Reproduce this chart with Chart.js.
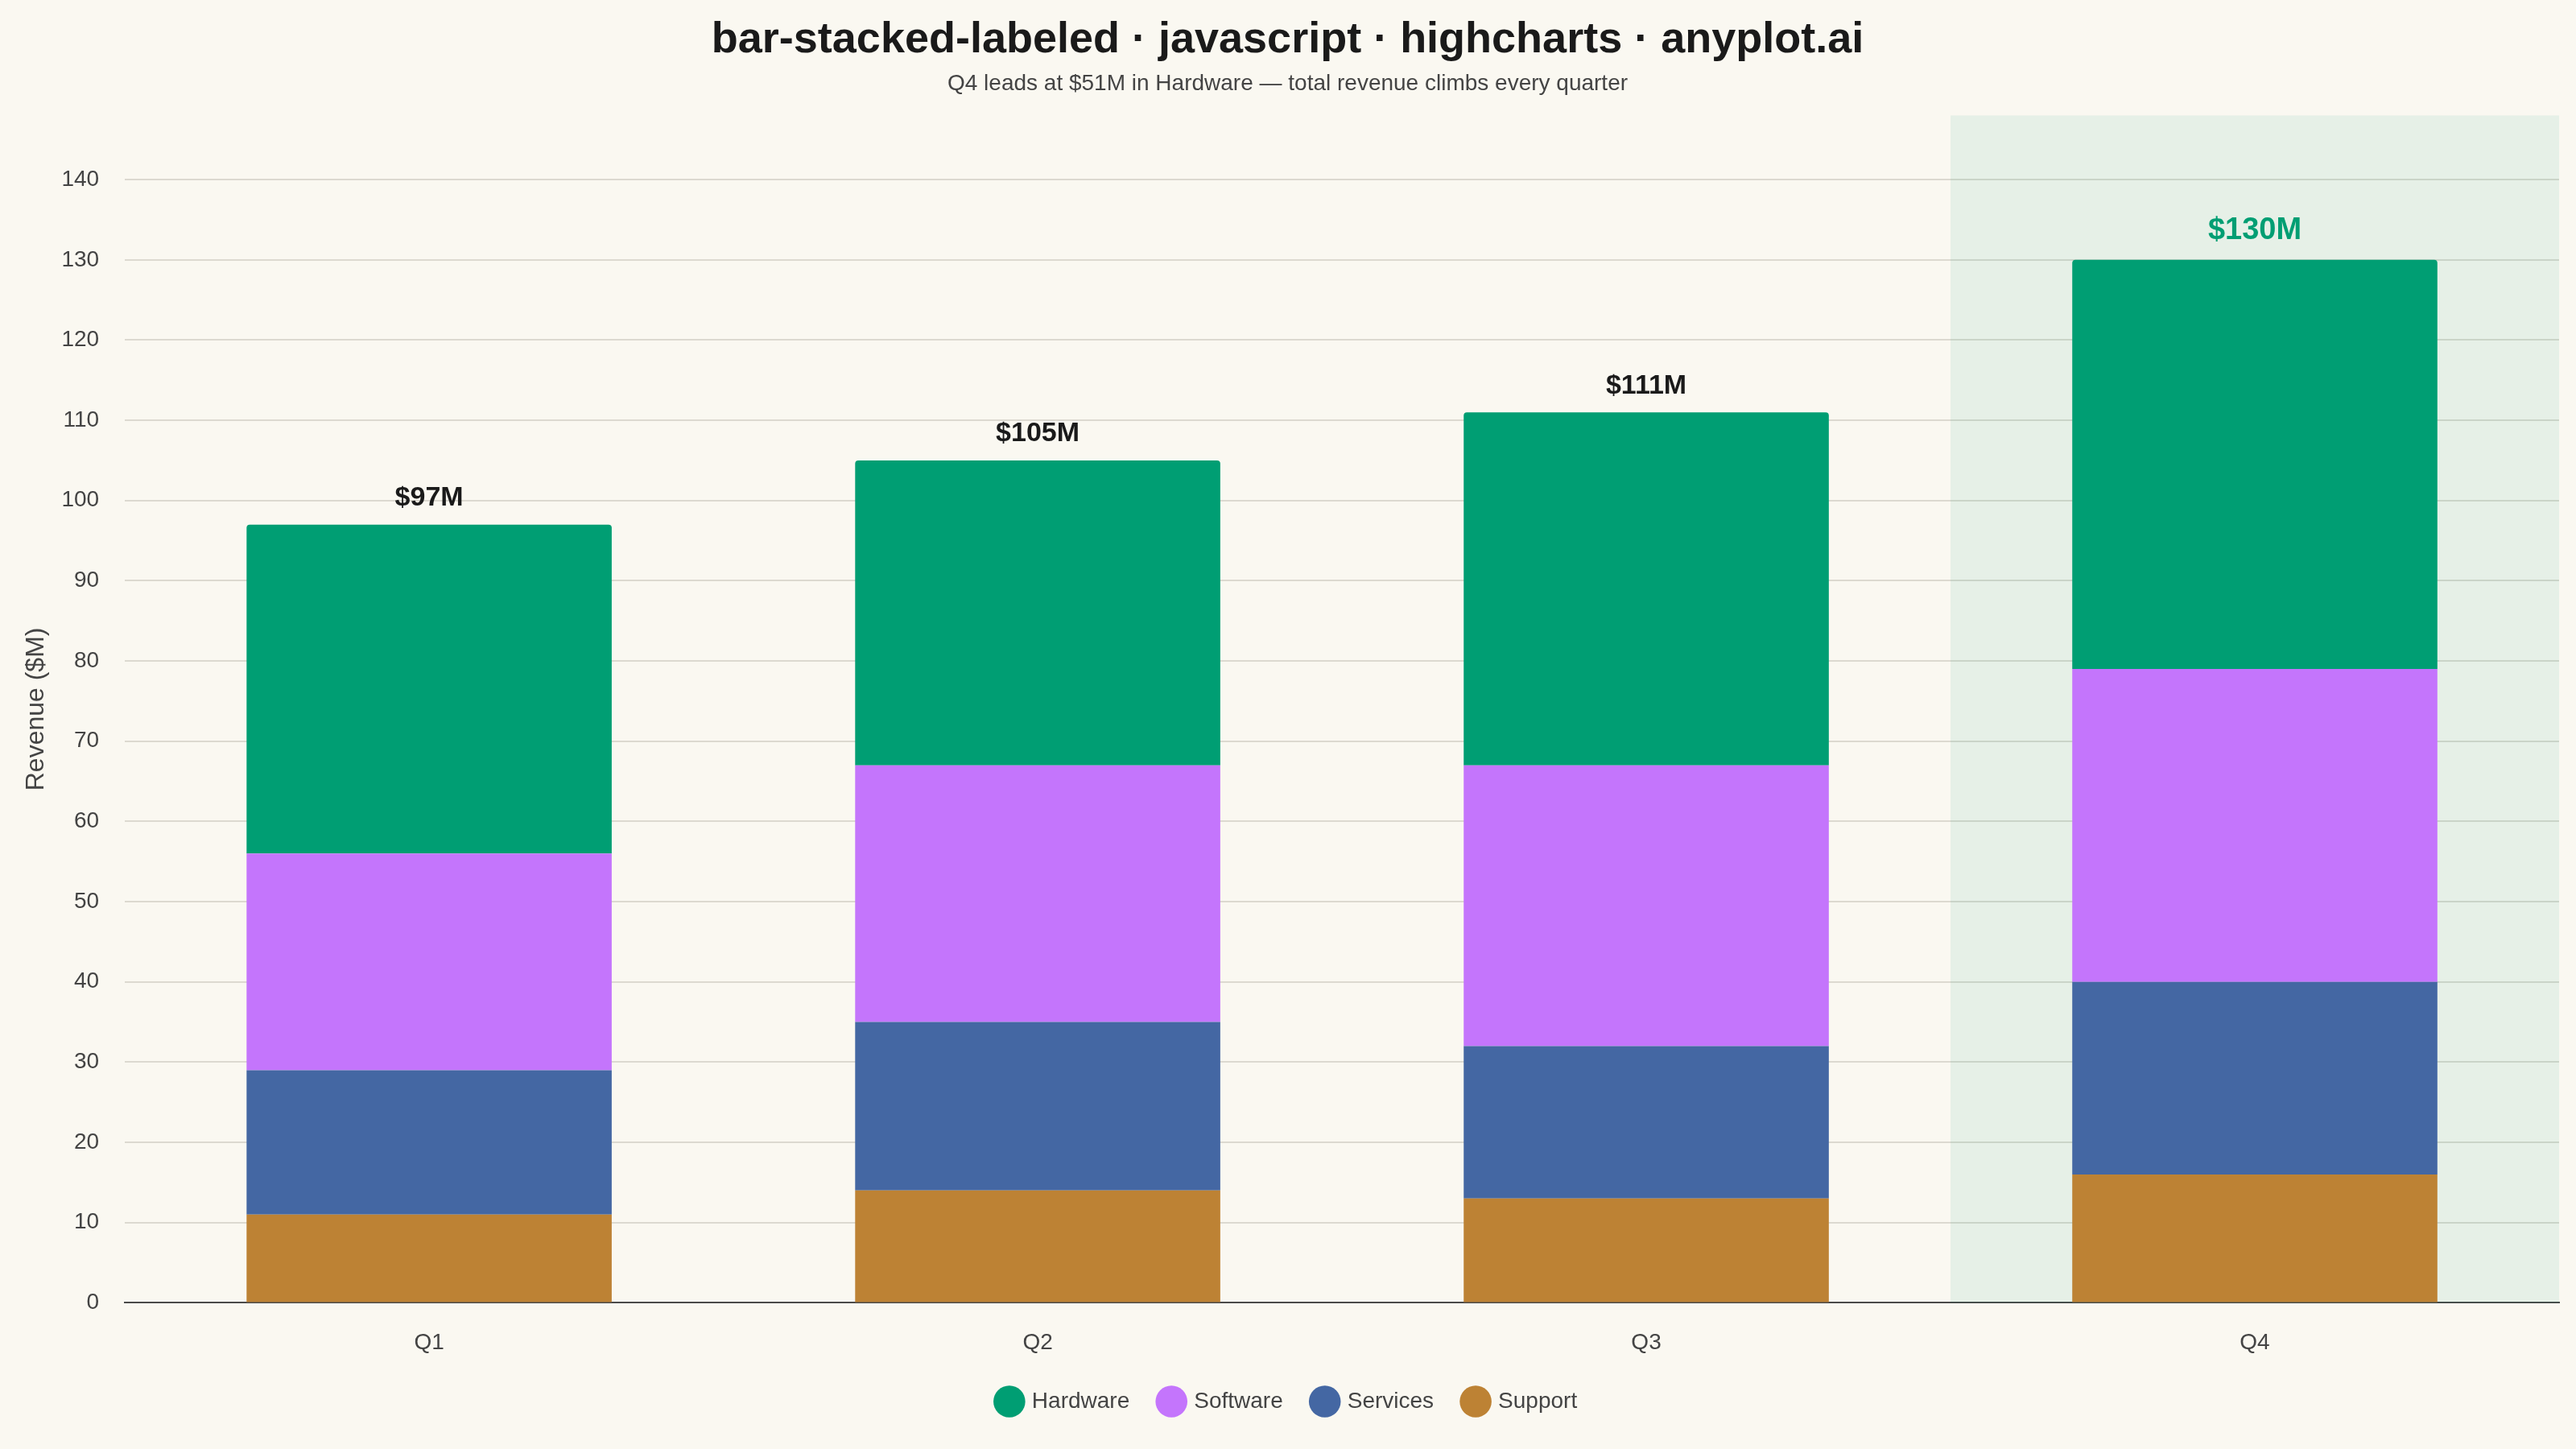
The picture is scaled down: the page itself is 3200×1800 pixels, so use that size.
<!DOCTYPE html>
<html>
<head>
<meta charset="utf-8">
<script src="https://cdn.jsdelivr.net/npm/chart.js@4"></script>
<style>
  html, body { margin: 0; padding: 0; background: #FAF8F1; }
  #wrap { width: 3200px; height: 1800px; }
</style>
</head>
<body>
<div id="wrap"><canvas id="stackChart"></canvas></div>
<script>
const quarters = ['Q1', 'Q2', 'Q3', 'Q4'];
const hardware = [41, 38, 44, 51];
const software = [27, 32, 35, 39];
const services = [18, 21, 19, 24];
const support = [11, 14, 13, 16];
const highlightIndex = 3;

const totals = quarters.map((q, i) => hardware[i] + software[i] + services[i] + support[i]);

const textColor = '#444444';
const fontFamily = '"Liberation Sans", Arial, Helvetica, sans-serif';

// shaded band behind the leading quarter
const highlightBand = {
  id: 'highlightBand',
  beforeDatasetsDraw(chart) {
    const { ctx, chartArea, scales } = chart;
    const x = scales.x;
    const half = (x.getPixelForValue(1) - x.getPixelForValue(0)) / 2;
    const cx = x.getPixelForValue(highlightIndex);
    ctx.save();
    ctx.fillStyle = 'rgba(0, 158, 115, 0.08)';
    ctx.fillRect(cx - half, chartArea.top, half * 2, chartArea.bottom - chartArea.top);
    ctx.restore();
  }
};

// total labels on top of each stack
const totalLabels = {
  id: 'totalLabels',
  afterDatasetsDraw(chart) {
    const { ctx } = chart;
    const last = chart.getDatasetMeta(chart.data.datasets.length - 1);
    ctx.save();
    ctx.textAlign = 'center';
    ctx.textBaseline = 'middle';
    last.data.forEach((bar, i) => {
      const hi = i === highlightIndex;
      ctx.font = (hi ? 'bold 38px ' : 'bold 34px ') + fontFamily;
      ctx.fillStyle = hi ? '#009E73' : '#1a1a1a';
      ctx.fillText('$' + totals[i] + 'M', bar.x, bar.y - (hi ? 36 : 33));
    });
    ctx.restore();
  }
};

new Chart(document.getElementById('stackChart'), {
  type: 'bar',
  data: {
    labels: quarters,
    datasets: [
      { label: 'Support', data: support, backgroundColor: '#BD8234' },
      { label: 'Services', data: services, backgroundColor: '#4467A3' },
      { label: 'Software', data: software, backgroundColor: '#C475FC' },
      { label: 'Hardware', data: hardware, backgroundColor: '#009E73', borderRadius: 4 }
    ]
  },
  options: {
    responsive: true,
    maintainAspectRatio: false,
    animation: false,
    devicePixelRatio: 1,
    layout: { padding: { left: 20, right: 21, bottom: 35 } },
    datasets: { bar: { barPercentage: 0.6, categoryPercentage: 1.0, borderSkipped: 'start' } },
    scales: {
      x: {
        stacked: true,
        grid: { display: false, drawTicks: false },
        border: { display: true, color: '#4a4a4a', width: 2 },
        ticks: { color: textColor, font: { family: fontFamily, size: 28 }, padding: 33 },
        afterFit(scale) { scale.height -= 29; }
      },
      y: {
        stacked: true,
        min: 0,
        max: 148,
        afterBuildTicks(scale) {
          scale.ticks = scale.ticks.filter(t => t.value % 10 === 0);
        },
        afterFit(scale) { scale.width -= 29; },
        grid: { color: '#dcd9d0', lineWidth: 2, drawTicks: false },
        border: { display: false },
        ticks: { stepSize: 10, color: textColor, font: { family: fontFamily, size: 28 }, padding: 32 },
        title: {
          display: true,
          text: 'Revenue ($M)',
          color: textColor,
          font: { family: fontFamily, size: 32 },
          padding: { top: 6, bottom: 9 }
        }
      }
    },
    plugins: {
      title: {
        display: true,
        text: 'bar-stacked-labeled · javascript · highcharts · anyplot.ai',
        color: '#1a1a1a',
        font: { family: fontFamily, size: 54, weight: 'bold' },
        padding: { top: 18, bottom: 5 }
      },
      subtitle: {
        display: true,
        text: 'Q4 leads at $51M in Hardware — total revenue climbs every quarter',
        color: textColor,
        font: { family: fontFamily, size: 28 },
        padding: { bottom: 22 }
      },
      legend: {
        position: 'bottom',
        reverse: true,
        labels: {
          usePointStyle: true,
          pointStyle: 'circle',
          boxHeight: 28,
          boxWidth: 28,
          padding: 38,
          color: textColor,
          font: { family: fontFamily, size: 28 }
        }
      },
      tooltip: { enabled: false }
    }
  },
  plugins: [highlightBand, totalLabels]
});
</script>
</body>
</html>
